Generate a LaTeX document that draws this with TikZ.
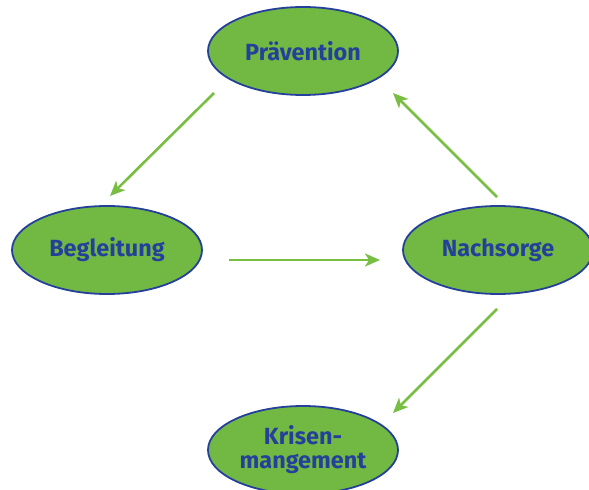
\documentclass[tikz,border=0pt]{standalone}
\usepackage{fontspec}
\setmainfont{Fira Sans}
\usetikzlibrary{shapes.geometric,arrows.meta}
\definecolor{phase}{HTML}{72B944}
\definecolor{rand}{HTML}{24409A}
\definecolor{pfeil}{HTML}{78BE43}
\begin{document}
\begin{tikzpicture}
    [x=1bp,y=-1bp,
     every node/.style={ellipse,draw=rand,line width=1.8bp,fill=phase,text=rand,
       minimum width=190bp,minimum height=88bp,inner sep=0pt,align=center,
       font=\fontsize{23.5}{24}\selectfont\bfseries},
     arr/.style={draw=pfeil,line width=2.6bp,-{Stealth[length=15bp,width=13bp,inset=4bp]}}]
    \clip (0,0) rectangle (589,490);
    \useasboundingbox (0,0) rectangle (589,490);
    \node (prae) at (303,51) {Prävention};
    \node (begl) at (107,250) {Begleitung};
    \node (nach) at (498,250) {Nachsorge};
    \node (kris) at (303,450) {Krisen-\\mangement};
    \coordinate (a1) at (214,93);
    \coordinate (a2) at (110,196);
    \coordinate (b1) at (229,260);
    \coordinate (b2) at (380,260);
    \coordinate (c1) at (497,197);
    \coordinate (c2) at (393,93);
    \coordinate (d1) at (497,309);
    \coordinate (d2) at (393,413);
    \draw[arr] (a1) -- (a2) ;
    \draw[arr] (b1) -- (b2) ;
    \draw[arr] (c1) -- (c2) ;
    \draw[arr] (d1) -- (d2) ;
\end{tikzpicture}
\end{document}
